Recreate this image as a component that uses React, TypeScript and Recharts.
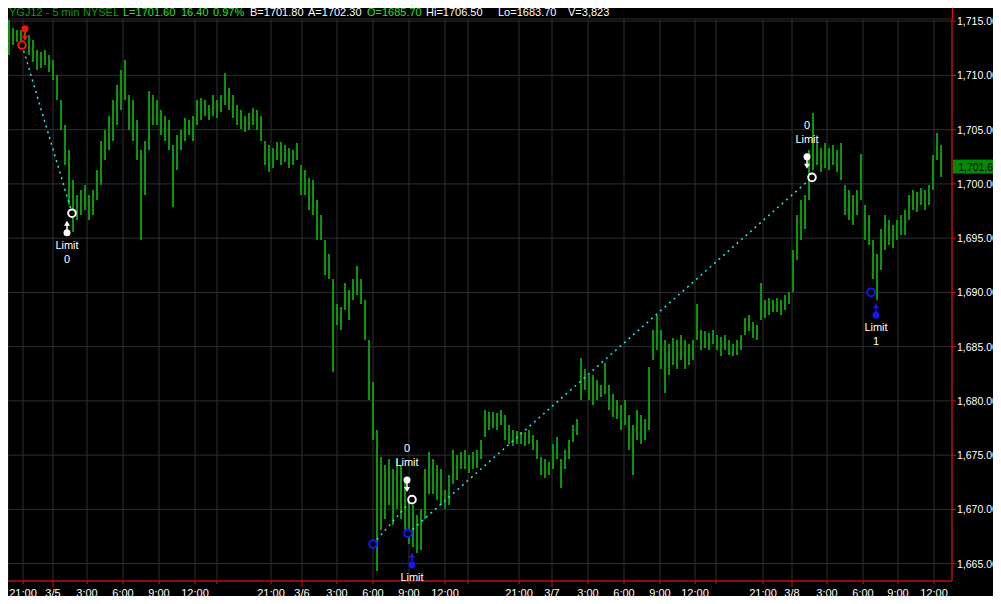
import React from "react"
import { Bar, CartesianGrid, ComposedChart, ReferenceLine, Scatter, XAxis, YAxis } from "recharts"

// 5-min bars, sampled every 4th bar (bar index from the left edge of the chart)
const barHigh = [
  1715.1, 1714.4, 1714.2, 1714.2, 1714.4, 1713.7, 1713.3, 1712.3, 1712.2, 1712.3,
  1711.9, 1711.4, 1710.0, 1707.7, 1705.4, 1703.1, 1700.4, 1699.0, 1699.4, 1699.9,
  1699.0, 1699.4, 1701.3, 1704.0, 1705.0, 1706.3, 1707.7, 1709.1, 1710.5, 1711.4,
  1708.2, 1707.7, 1705.9, 1703.1, 1704.0, 1708.6, 1708.2, 1707.7, 1706.8, 1706.3,
  1705.9, 1703.6, 1704.5, 1705.0, 1706.1, 1705.9, 1706.3, 1707.7, 1707.9, 1707.7,
  1707.3, 1708.2, 1707.7, 1708.2, 1710.2, 1708.8, 1708.2, 1707.3, 1706.8, 1706.3,
  1706.5, 1707.0, 1706.8, 1706.3, 1704.0, 1703.6, 1703.3, 1703.9, 1703.9, 1703.6,
  1703.3, 1703.1, 1703.8, 1701.7, 1701.3, 1700.5, 1700.4, 1698.5, 1697.1, 1694.8,
  1693.5, 1691.2, 1688.9, 1688.7, 1690.9, 1690.2, 1691.2, 1692.4, 1691.2, 1689.3,
  1685.6, 1681.7, 1677.3, 1674.8, 1674.1, 1674.6, 1673.7, 1674.6, 1674.1, 1672.7,
  1670.9, 1670.4, 1669.5, 1670.0, 1673.7, 1675.3, 1674.6, 1674.1, 1673.7, 1671.8,
  1673.2, 1675.5, 1675.0, 1675.3, 1675.5, 1675.0, 1675.3, 1675.5, 1676.4, 1679.2,
  1679.0, 1679.0, 1678.9, 1679.2, 1678.7, 1677.8, 1677.3, 1677.2, 1677.1, 1677.1,
  1677.3, 1676.9, 1676.4, 1674.8, 1674.6, 1674.4, 1676.0, 1676.7, 1674.6, 1675.5,
  1676.4, 1677.8, 1678.3, 1684.0, 1682.9, 1682.4, 1682.4, 1681.9, 1681.5, 1683.5,
  1681.5, 1680.6, 1680.1, 1679.6, 1680.1, 1678.7, 1677.8, 1679.2, 1678.7, 1678.3,
  1683.1, 1686.5, 1687.9, 1686.5, 1685.6, 1685.2, 1685.8, 1685.6, 1686.1, 1685.6,
  1685.2, 1685.6, 1688.9, 1686.5, 1686.4, 1686.3, 1686.5, 1686.1, 1685.9, 1686.1,
  1685.6, 1685.2, 1685.6, 1686.1, 1687.6, 1687.9, 1687.3, 1687.0, 1690.9, 1689.3,
  1689.5, 1689.3, 1689.5, 1689.3, 1689.8, 1690.0, 1693.9, 1697.1, 1698.5, 1699.0,
  1703.1, 1706.5, 1703.8, 1703.3, 1703.8, 1703.3, 1703.6, 1703.1, 1703.8, 1699.9,
  1699.4, 1699.0, 1699.4, 1702.8, 1698.1, 1697.1, 1694.8, 1693.5, 1695.8, 1697.1,
  1696.7, 1696.2, 1696.7, 1697.1, 1697.6, 1699.0, 1699.4, 1699.3, 1699.6, 1699.4,
  1699.9, 1702.7, 1704.7, 1703.6,
]

const barLow = [
  1711.9, 1712.8, 1713.1, 1712.8, 1713.3, 1711.9, 1711.2, 1710.5, 1710.7, 1711.0,
  1710.3, 1709.6, 1707.7, 1705.0, 1701.7, 1698.1, 1695.6, 1696.7, 1697.1, 1697.6,
  1696.7, 1697.1, 1698.5, 1699.9, 1702.2, 1703.1, 1704.0, 1705.4, 1706.8, 1707.7,
  1705.0, 1704.0, 1702.2, 1694.8, 1699.0, 1703.1, 1705.4, 1705.4, 1704.5, 1704.0,
  1703.1, 1697.9, 1701.3, 1703.1, 1704.0, 1704.5, 1704.0, 1705.4, 1705.9, 1706.3,
  1705.9, 1706.3, 1706.1, 1706.6, 1707.3, 1706.8, 1706.1, 1705.4, 1705.1, 1704.8,
  1705.0, 1705.4, 1705.0, 1704.0, 1701.7, 1701.1, 1701.5, 1702.2, 1701.7, 1702.0,
  1701.5, 1701.7, 1702.2, 1699.0, 1699.0, 1697.6, 1697.1, 1694.8, 1694.8, 1691.6,
  1691.2, 1682.7, 1687.0, 1686.5, 1688.4, 1687.5, 1689.3, 1689.8, 1688.9, 1685.6,
  1680.1, 1676.4, 1664.3, 1668.1, 1669.1, 1670.4, 1668.6, 1670.0, 1669.1, 1668.1,
  1666.8, 1666.5, 1666.0, 1666.3, 1669.1, 1671.4, 1671.4, 1670.9, 1670.4, 1670.0,
  1670.4, 1672.3, 1672.7, 1673.7, 1673.7, 1673.4, 1673.7, 1673.8, 1674.6, 1676.7,
  1677.3, 1677.5, 1677.3, 1677.8, 1676.4, 1676.0, 1675.8, 1676.0, 1676.0, 1675.8,
  1676.0, 1675.5, 1674.6, 1673.2, 1672.9, 1673.2, 1673.7, 1674.6, 1672.0, 1673.7,
  1674.6, 1676.2, 1676.9, 1680.1, 1681.0, 1680.1, 1679.6, 1680.1, 1680.4, 1680.6,
  1679.2, 1678.5, 1678.3, 1677.3, 1677.8, 1675.5, 1673.2, 1676.4, 1676.0, 1676.4,
  1677.3, 1683.8, 1684.7, 1682.9, 1680.7, 1682.4, 1683.3, 1682.9, 1683.8, 1682.9,
  1683.3, 1683.8, 1685.6, 1684.7, 1684.9, 1684.7, 1685.2, 1684.7, 1684.1, 1684.7,
  1684.2, 1684.1, 1684.2, 1684.7, 1686.1, 1686.4, 1685.8, 1685.6, 1687.5, 1687.6,
  1687.9, 1688.2, 1688.2, 1687.9, 1688.4, 1688.9, 1690.0, 1693.0, 1694.8, 1695.8,
  1698.5, 1701.3, 1701.7, 1701.1, 1701.5, 1701.3, 1701.7, 1701.1, 1700.4, 1697.1,
  1696.7, 1696.2, 1697.1, 1698.5, 1694.8, 1694.4, 1691.2, 1689.3, 1692.1, 1693.9,
  1694.4, 1694.1, 1694.8, 1695.3, 1695.3, 1696.7, 1697.6, 1697.4, 1698.1, 1697.6,
  1698.1, 1699.4, 1702.2, 1700.6,
]

const timeTicks = [15, 45, 79, 115, 151, 187, 209, 263, 294, 329, 365, 401, 437, 460, 511, 544, 580, 616, 652, 687, 708, 755, 784, 819, 855, 890, 926]
const timeLabels = [
  "21:00", "3/5", "3:00", "6:00", "9:00", "12:00", "",
  "21:00", "3/6", "3:00", "6:00", "9:00", "12:00", "",
  "21:00", "3/7", "3:00", "6:00", "9:00", "12:00", "",
  "21:00", "3/8", "3:00", "6:00", "9:00", "12:00",
]
const priceTicks = [1665, 1670, 1675, 1680, 1685, 1690, 1695, 1700, 1705, 1710, 1715]
const lastPrice = 1701.6

const header = [
  { text: "YGJ12 - 5 min", tone: "dim" },
  { text: "NYSEL", tone: "dim" },
  { text: "L=1701.60", tone: "up" },
  { text: "16.40", tone: "up" },
  { text: "0.97%", tone: "up" },
  { text: "B=1701.80", tone: "plain" },
  { text: "A=1702.30", tone: "plain" },
  { text: "O=1685.70", tone: "up" },
  { text: "Hi=1706.50", tone: "plain" },
  { text: "Lo=1683.70", tone: "plain" },
  { text: "V=3,823", tone: "plain" },
]
const headerLeft = [1, 75, 115, 173, 205, 242, 300, 359, 418, 490, 560]

// fills (circles) and orders (pins) on the chart
const fills = [
  { idx: 14, price: 1712.8, kind: "short" },
  { idx: 64, price: 1697.3, kind: "exit" },
  { idx: 365, price: 1666.8, kind: "long" },
  { idx: 404, price: 1670.9, kind: "exit" },
  { idx: 400, price: 1667.8, kind: "long" },
  { idx: 804, price: 1700.6, kind: "exit" },
  { idx: 863, price: 1690.0, kind: "long" },
]
const orders = [
  { idx: 17, price: 1714.3, kind: "short", dir: "down", labels: [] as string[] },
  { idx: 59, price: 1695.5, kind: "exit", dir: "up", labels: ["Limit", "0"] },
  { idx: 399, price: 1672.7, kind: "exit", dir: "down", labels: ["Limit", "0"] },
  { idx: 404, price: 1664.9, kind: "long", dir: "up", labels: ["Limit"] },
  { idx: 799, price: 1702.5, kind: "exit", dir: "down", labels: ["Limit", "0"] },
  { idx: 868, price: 1687.9, kind: "long", dir: "up", labels: ["Limit", "1"] },
]
const tradeLinks = [
  { x1: 14, y1: 1712.8, x2: 64, y2: 1697.3 },
  { x1: 365, y1: 1666.8, x2: 404, y2: 1670.9 },
  { x1: 400, y1: 1667.8, x2: 804, y2: 1700.6 },
]

const bars = barHigh.map((hi, i) => ({ idx: 1 + i * 4, range: [barLow[i], hi] }))

const FONT = "'Liberation Sans', Arial, sans-serif"
const kindColor: Record<string, string> = { short: "#ff1010", exit: "#ffffff", long: "#1414ff" }
const toneColor: Record<string, string> = { dim: "#119a11", up: "#2ee02e", plain: "#ffffff" }
const fmt = (v: number) => v.toLocaleString("en-US", { minimumFractionDigits: 2, maximumFractionDigits: 2 })

function TimeTick({ x, y, payload }: any) {
  const label = timeLabels[timeTicks.indexOf(payload.value)] ?? ""
  const day = label.includes("/")
  return (
    <g>
      <line x1={x} x2={x} y1={day ? y - 1 : y} y2={y + (day ? 6 : 3)} stroke="#ff0000" />
      <text x={x} y={y + 12} textAnchor="middle" dominantBaseline="central" fill="#fff" fontSize={11} fontFamily={FONT}>
        {label}
      </text>
    </g>
  )
}

function PriceTick({ x, y, payload }: any) {
  return (
    <g>
      <line x1={x} x2={x + 4} y1={y} y2={y} stroke="#ff0000" />
      <text x={x + 5} y={y} dominantBaseline="central" fill="#fff" fontSize={10.5} fontFamily={FONT}>
        {fmt(payload.value)}
      </text>
    </g>
  )
}

function RangeBar({ x, y, width, height }: any) {
  const cx = Math.round(x + width / 2)
  return <rect x={cx - 1} y={y} width={2} height={Math.max(1, height)} fill="#0a960a" shapeRendering="crispEdges" />
}

function FillShape({ cx, cy, payload }: any) {
  return <circle cx={cx} cy={cy} r={3.8} fill="#000" stroke={kindColor[payload.kind]} strokeWidth={2} />
}

function OrderShape({ cx, cy, payload }: any) {
  const c = kindColor[payload.kind]
  const s = payload.dir === "up" ? -1 : 1
  const tip = cy + s * 12
  const labelY = (n: number) => (s < 0 ? cy + 12 + n * 14 : cy - 18 - n * 14)
  return (
    <g>
      <line x1={cx} x2={cx} y1={cy} y2={tip - s * 3} stroke={c} strokeWidth={1.5} />
      <polygon points={`${cx},${tip} ${cx - 3},${tip - s * 5} ${cx + 3},${tip - s * 5}`} fill={c} />
      <circle cx={cx} cy={cy} r={3.5} fill={c} />
      {payload.labels.map((t: string, n: number) => (
        <text key={n} x={cx} y={labelY(n)} textAnchor="middle" dominantBaseline="central" fill="#fff" fontSize={11} fontFamily={FONT}>
          {t}
        </text>
      ))}
    </g>
  )
}

function PriceTag({ viewBox }: any) {
  const x = viewBox.x + viewBox.width
  const y = viewBox.y
  return (
    <g>
      <rect x={x + 1} y={y - 7} width={48} height={14} fill="#008a00" />
      <text x={x + 47} y={y} textAnchor="end" dominantBaseline="central" fill="#000" fontSize={10.5} fontFamily={FONT}>
        {fmt(lastPrice)}
      </text>
    </g>
  )
}

export default function App() {
  return (
    <div style={{ position: "relative", width: 1001, height: 604, margin: -8, background: "#e6e6e6", overflow: "hidden" }}>
      <div style={{ position: "absolute", left: 8, top: 6, width: 993, height: 594, background: "#000" }}>
        <ComposedChart width={993} height={594} data={bars} margin={{ top: 13, right: 0, bottom: 0, left: 0 }}>
          <CartesianGrid stroke="#2e2e2e" />
          <XAxis
            dataKey="idx"
            type="number"
            domain={[0, 944]}
            ticks={timeTicks}
            interval={0}
            height={19}
            tickSize={0}
            tickMargin={0}
            tickLine={false}
            axisLine={{ stroke: "#ff0000" }}
            tick={<TimeTick />}
          />
          <YAxis
            orientation="right"
            type="number"
            domain={[1663.4, 1715.2]}
            ticks={priceTicks}
            interval={0}
            width={49}
            tickSize={0}
            tickMargin={0}
            tickLine={false}
            axisLine={{ stroke: "#ff0000" }}
            tick={<PriceTick />}
          />
          <Bar dataKey="range" fill="#0a960a" barSize={2} shape={<RangeBar />} isAnimationActive={false} />
          {tradeLinks.map((l, i) => (
            <ReferenceLine
              key={i}
              segment={[{ x: l.x1, y: l.y1 }, { x: l.x2, y: l.y2 }]}
              stroke="#20e8e8"
              strokeWidth={1.5}
              strokeDasharray="2 4"
            />
          ))}
          <ReferenceLine y={lastPrice} stroke="none" label={<PriceTag />} />
          <Scatter data={orders} dataKey="price" shape={<OrderShape />} isAnimationActive={false} />
          <Scatter data={fills} dataKey="price" shape={<FillShape />} isAnimationActive={false} />
        </ComposedChart>
        <div style={{ position: "absolute", left: 944, top: 0, width: 1, height: 13, background: "#ff0000" }} />
        {header.map((h, i) => (
          <span
            key={i}
            style={{
              position: "absolute",
              left: headerLeft[i],
              top: 0,
              fontFamily: FONT,
              fontSize: 11,
              lineHeight: "13px",
              color: toneColor[h.tone],
              whiteSpace: "nowrap",
            }}
          >
            {h.text}
          </span>
        ))}
      </div>
    </div>
  )
}
